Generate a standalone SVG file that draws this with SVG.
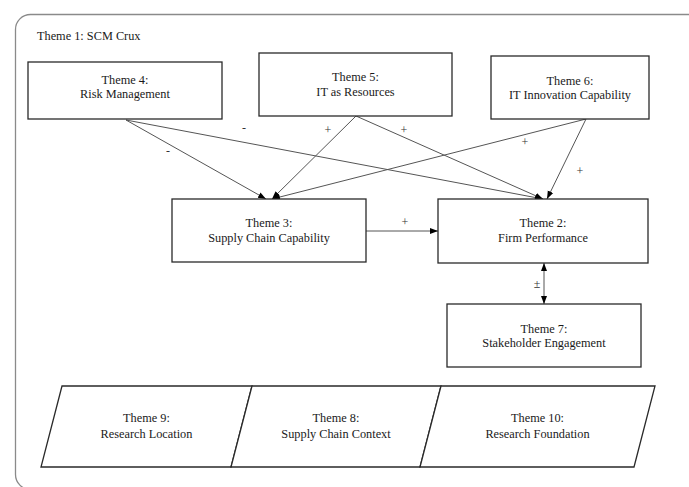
<svg xmlns="http://www.w3.org/2000/svg" width="689" height="487" viewBox="0 0 689 487">
<style>
text{font-family:'Liberation Serif','Times New Roman','DejaVu Serif',serif;font-size:12.3px;fill:#1a1a1a;text-anchor:middle}
.box{fill:#fff;stroke:#2a2a2a;stroke-width:1.3}
.frame{fill:none;stroke:#8a8a8a;stroke-width:1.3}
.con line{stroke:#555;stroke-width:1;fill:none}
.lbl{font-size:12px;fill:#333}
</style>
<defs>
<marker id="ah" markerUnits="userSpaceOnUse" markerWidth="8" markerHeight="8" viewBox="0 0 8 8" refX="8" refY="4" orient="auto">
<path d="M0,1 L8,4 L0,7 Z" fill="#000"/>
</marker>
<marker id="ahs" markerUnits="userSpaceOnUse" markerWidth="8" markerHeight="8" viewBox="0 0 8 8" refX="8" refY="4" orient="auto-start-reverse">
<path d="M0,1 L8,4 L0,7 Z" fill="#000"/>
</marker>
</defs>
<rect class="frame" x="15.5" y="14.5" width="700" height="475" rx="15" ry="15"/>
<text x="37" y="40" style="text-anchor:start">Theme 1: SCM Crux</text>

<g class="con">
<line x1="126" y1="120" x2="266" y2="199" marker-end="url(#ah)"/>
<line x1="126" y1="120" x2="543" y2="199" marker-end="url(#ah)"/>
<line x1="356" y1="116" x2="272" y2="199" marker-end="url(#ah)"/>
<line x1="356" y1="116" x2="543" y2="199" marker-end="url(#ah)"/>
<line x1="586" y1="119" x2="272" y2="199" marker-end="url(#ah)"/>
<line x1="586" y1="119" x2="547" y2="199" marker-end="url(#ah)"/>
<line x1="366" y1="231" x2="438" y2="231" marker-end="url(#ah)"/>
<line x1="544" y1="263" x2="544" y2="304" marker-start="url(#ahs)" marker-end="url(#ah)"/>
<text class="lbl" x="168" y="155">-</text>
<text class="lbl" x="244" y="132">-</text>
<text class="lbl" x="328" y="134">+</text>
<text class="lbl" x="404" y="134">+</text>
<text class="lbl" x="525" y="146">+</text>
<text class="lbl" x="580" y="175">+</text>
<text class="lbl" x="405" y="226">+</text>
<text class="lbl" x="537" y="288">±</text>
</g>

<g id="theme4">
<rect class="box" x="28" y="62" width="194" height="57"/>
<text x="125" y="84">Theme 4:</text>
<text x="125" y="98">Risk Management</text>
</g>
<g id="theme5">
<rect class="box" x="259" y="53" width="193" height="63"/>
<text x="355.5" y="81">Theme 5:</text>
<text x="355.5" y="95.5">IT as Resources</text>
</g>
<g id="theme6">
<rect class="box" x="491" y="56" width="158" height="63"/>
<text x="570" y="85">Theme 6:</text>
<text x="570" y="99">IT Innovation Capability</text>
</g>
<g id="theme3">
<rect class="box" x="172" y="199" width="194" height="63"/>
<text x="269" y="227">Theme 3:</text>
<text x="269" y="242">Supply Chain Capability</text>
</g>
<g id="theme2">
<rect class="box" x="438" y="199" width="210" height="64"/>
<text x="543" y="227">Theme 2:</text>
<text x="543" y="242">Firm Performance</text>
</g>
<g id="theme7">
<rect class="box" x="447" y="304" width="194" height="63"/>
<text x="544" y="333">Theme 7:</text>
<text x="544" y="347">Stakeholder Engagement</text>
</g>
<g id="theme9">
<polygon class="box" points="62,386 252,386 231,467 41,467"/>
<text x="146.5" y="422">Theme 9:</text>
<text x="146.5" y="438">Research Location</text>
</g>
<g id="theme8">
<polygon class="box" points="252,386 441,386 420,467 231,467"/>
<text x="336" y="422">Theme 8:</text>
<text x="336" y="438">Supply Chain Context</text>
</g>
<g id="theme10">
<polygon class="box" points="441,386 655,386 634,467 420,467"/>
<text x="537.5" y="422">Theme 10:</text>
<text x="537.5" y="438">Research Foundation</text>
</g>
</svg>
